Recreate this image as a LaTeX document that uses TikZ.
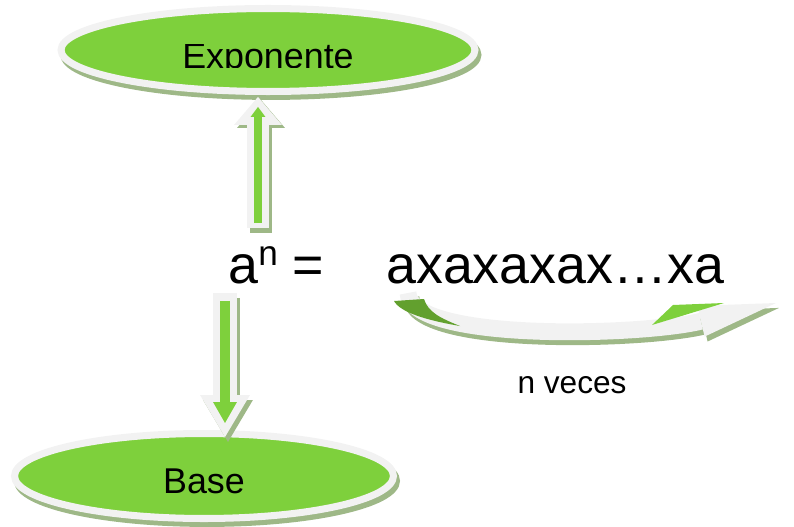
\documentclass[tikz,border=0pt]{standalone}
\usepackage{fontspec}
\setmainfont{Liberation Sans}
\usepackage{trimclip}
\usetikzlibrary{shapes}
\usetikzlibrary{arrows.meta}
\usetikzlibrary{positioning}
\usetikzlibrary{shadows}

\definecolor{leafGreen}{RGB}{126,208,60}
\definecolor{darkLeaf}{RGB}{98,160,46}
\definecolor{rimGray}{RGB}{242,242,242}
\definecolor{shadowGreen}{RGB}{158,184,135}

\begin{document}
\begin{tikzpicture}[x = 0.02cm, y = -0.02cm]
\tikzset{
  oval/.style = {ellipse, draw = rimGray, line width = 4pt, fill = leafGreen, inner sep = 0pt,
    font = \fontsize{20.4}{24}\selectfont, text height = 20pt, text depth = 0pt,
    drop shadow = {shadow xshift = 1.7pt, shadow yshift = -2.8pt, fill = shadowGreen, draw = shadowGreen, opacity = 1}},
  formula/.style = {inner sep = 0pt, font = \fontsize{30.6}{36}\selectfont},
  note/.style = {inner sep = 0pt, font = \fontsize{18}{22}\selectfont},
  dropped/.style = {transform canvas = {xshift = 1.7pt, yshift = -2.8pt}},
  upOuter/.style = {draw = rimGray, line width = 12.5pt, -{Triangle[width = 27.2pt, length = 15.9pt, line width = 0pt]}},
  upInner/.style = {draw = leafGreen, line width = 5.1pt, -{Triangle[width = 8.5pt, length = 5.7pt, line width = 0pt]}},
  downOuter/.style = {draw = rimGray, line width = 14.2pt, -{Triangle[width = 28.3pt, length = 23.8pt, line width = 0pt]}},
  downInner/.style = {draw = leafGreen, line width = 5.7pt, -{Triangle[width = 13.6pt, length = 11.9pt, line width = 0pt]}},
  loopBand/.style = {draw = rimGray, line width = 9.6pt, -{Triangle[width = 18pt, length = 44pt, line width = 0pt]}},
}
\useasboundingbox (0,0) rectangle (794,527);

\node [oval, minimum width = 8.28cm, minimum height = 1.66cm] (exponentOval) at (268,50) {\clipbox{0pt 0.24em 0pt 0pt}{Exponente}};
\node [oval, minimum width = 7.58cm, minimum height = 1.70cm] (baseOval) at (204,476) {Base};
\node [formula, anchor = base west] (power) at (228,283) {a\raisebox{0.32em}{\fontsize{20}{20}\selectfont n} =};
\node [formula, base right = 1.23cm of power] (product) {axaxaxax\ldots xa};
\node [note, anchor = base] (times) at (572,393) {n veces};

\coordinate (upFoot) at (258,228);
\coordinate (downTop) at (225,293);
\coordinate (loopStart) at (408,293);
\coordinate (loopEnd) at (776,303);

% shadows
\draw [upOuter, dropped, draw = shadowGreen] (upFoot) -- (upFoot |- exponentOval.south);
\draw [downOuter, dropped, draw = shadowGreen, shorten > = -4pt] (downTop) -- (downTop |- baseOval.north);
\draw [loopBand, dropped, draw = shadowGreen] (loopStart) .. controls (410,342) and (640,336) .. (loopEnd);

% arrows
\draw [upOuter, shorten > = 1.1pt] (upFoot) -- (upFoot |- exponentOval.south);
\draw [upInner, shorten > = 6.8pt, shorten < = 2.8pt] (upFoot) -- (upFoot |- exponentOval.south);
\draw [downOuter, shorten > = -4pt] (downTop) -- (downTop |- baseOval.north);
\draw [downInner, shorten > = 4pt, shorten < = 4.5pt] (downTop) -- (downTop |- baseOval.north);
\draw [loopBand] (loopStart) .. controls (410,342) and (640,336) .. (loopEnd);
\fill [darkLeaf] (394,301) -- (424,299) .. controls (428,312) and (440,318) .. (460,326) .. controls (425,320) and (400,312) .. cycle;
\fill [leafGreen] (652,325) -- (673,305) -- (724,303) -- cycle;
\end{tikzpicture}
\end{document}
